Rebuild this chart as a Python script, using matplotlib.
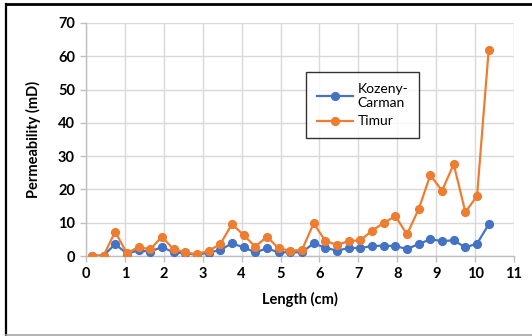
import matplotlib
matplotlib.use("Agg")
import matplotlib.pyplot as plt
from matplotlib.lines import Line2D

# Sample lengths along the core (cm)
length_cm = [0.15, 0.45, 0.75, 1.05, 1.35, 1.65, 1.95, 2.25, 2.55, 2.85,
             3.15, 3.45, 3.75, 4.05, 4.35, 4.65, 4.95, 5.25, 5.55, 5.85,
             6.15, 6.45, 6.75, 7.05, 7.35, 7.65, 7.95, 8.25, 8.55, 8.85,
             9.15, 9.45, 9.75, 10.05, 10.35]

# Permeability estimates (mD)
kozeny_carman = [0.1, 0.1, 3.6, 0.7, 1.7, 1.3, 2.7, 1.1, 0.8, 0.4,
                 1.0, 1.8, 3.8, 2.6, 1.1, 2.3, 1.1, 1.1, 1.1, 3.8,
                 2.5, 1.6, 2.4, 2.4, 3.0, 3.1, 3.0, 2.1, 3.6, 5.0,
                 4.5, 4.7, 2.6, 3.7, 9.5]
timur = [0.1, 0.1, 7.3, 0.8, 2.7, 2.0, 5.8, 2.0, 1.1, 0.5,
         1.6, 3.5, 9.6, 6.3, 2.8, 5.8, 2.3, 1.6, 1.8, 9.8,
         4.6, 3.3, 4.5, 4.7, 7.6, 9.9, 12.0, 6.5, 14.1, 24.3,
         19.6, 27.6, 13.2, 18.0, 62.0]

series_labels = ["Kozeny-\nCarman", "Timur"]
x_ticks = list(range(0, 12))
y_ticks = list(range(0, 80, 10))

BLUE = "#4472C4"
ORANGE = "#ED7D31"
GRID = "#D9D9D9"
AXIS = "#BFBFBF"

plt.rcParams["font.family"] = ["Lato", "DejaVu Sans"]

fig = plt.figure(figsize=(5.32, 3.36), dpi=100)
ax = fig.add_axes([86 / 532, 80 / 336, 428 / 532, 233 / 336])

ax.plot(length_cm, kozeny_carman, color=BLUE, lw=1.6, marker="o",
        markersize=5.6, label=series_labels[0], zorder=3)
ax.plot(length_cm, timur, color=ORANGE, lw=1.6, marker="o",
        markersize=5.6, label=series_labels[1], zorder=4)

ax.set_xlim(0, 11)
ax.set_ylim(0, 70)
ax.set_xticks(x_ticks)
ax.set_yticks(y_ticks)
ax.grid(True, color=GRID, lw=1.0, zorder=0)
ax.set_axisbelow(True)

for side in ("top", "right"):
    ax.spines[side].set_visible(False)
for side in ("left", "bottom"):
    ax.spines[side].set_color(AXIS)
    ax.spines[side].set_linewidth(1.0)

ax.tick_params(axis="both", which="major", length=4, width=1.0, color=AXIS,
               labelsize=10.5, pad=4)
for lbl in ax.get_xticklabels() + ax.get_yticklabels():
    lbl.set_fontweight("bold")

ax.set_xlabel("Length (cm)", fontsize=10.5, fontweight="bold", labelpad=8)
ax.set_ylabel("Permeability (mD)", fontsize=10.5, fontweight="bold", labelpad=12)

leg = ax.legend(loc="upper left", bbox_to_anchor=((306 - 86) / 428, (256 - 72) / 233),
                borderaxespad=0, fancybox=False, frameon=True, fontsize=10,
                handlelength=2.6, labelspacing=0.45, borderpad=0.8,
                handletextpad=0.3)
leg.get_frame().set_edgecolor("black")
leg.get_frame().set_linewidth(1.0)

# Outer frame around the chart
fig.add_artist(Line2D([6 / 532, 1.0], [1 - 4 / 336, 1 - 4 / 336],
                      transform=fig.transFigure, color="black", lw=2.0))
fig.add_artist(Line2D([6 / 532, 6 / 532], [1 - 4 / 336, 1 / 336],
                      transform=fig.transFigure, color="black", lw=1.6))
fig.add_artist(Line2D([6 / 532, 1.0], [1 / 336, 1 / 336],
                      transform=fig.transFigure, color="#A6A6A6", lw=1.2))

fig.savefig("out.png", dpi=100)
